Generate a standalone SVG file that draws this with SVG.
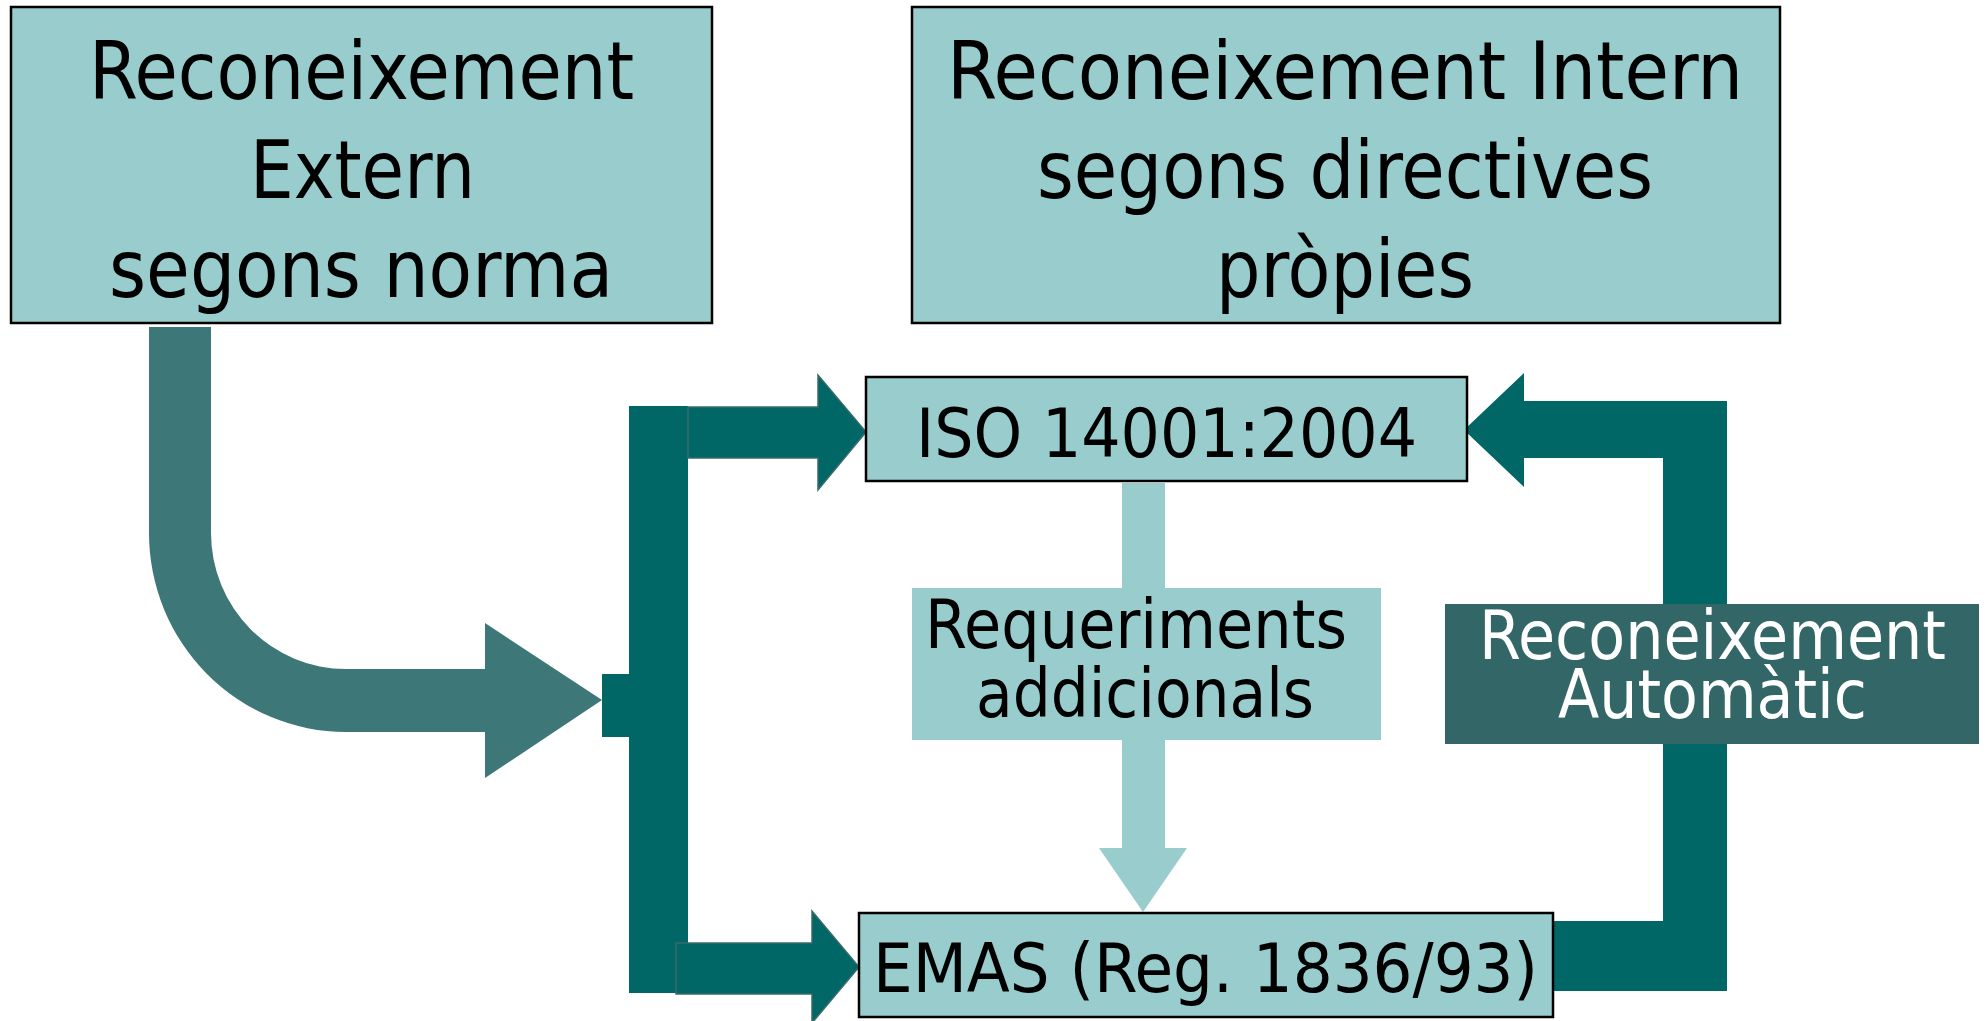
<svg xmlns="http://www.w3.org/2000/svg" width="1987" height="1021" viewBox="0 0 1987 1021">
<style>
.box{fill:#99CCCC;stroke:#000;stroke-width:2.5}
.lbl{fill:#99CCCC}
.dbox{fill:#336666}
.t{font-family:"DejaVu Sans Condensed","DejaVu Sans",sans-serif;font-stretch:condensed;fill:#000}
.big{font-size:80px}
.mid{font-size:68px}
.w{fill:#fff}
.teal{fill:#006666}
.tealo{fill:#006666;stroke:#3A6B6B;stroke-width:1.5}
.curve{fill:#3D7777}
.light{fill:#99CCCC}
</style>
<rect width="1987" height="1021" fill="#fff"/>
<g id="connectors">
  <path class="curve" d="M149,327 L211,327 L211,533 A135,136 0 0 0 346,669 L485,669 L485,623 L602,700 L485,778 L485,732 L346,732 A197,199 0 0 1 149,533 Z"/>
  <rect class="teal" x="602" y="674" width="27" height="63"/>
  <rect class="teal" x="629" y="406" width="59" height="587"/>
  <path class="tealo" d="M688,407 L818,407 L818,375 L866,432 L818,490 L818,458 L688,458 Z"/>
  <path class="tealo" d="M676,943 L812,943 L812,911 L859,967 L812,1023 L812,994 L676,994 Z"/>
  <path class="teal" d="M1464,430 L1524,373 L1524,401 L1727,401 L1727,991 L1553,991 L1553,921 L1663,921 L1663,458 L1524,458 L1524,487 Z"/>
  <path class="light" d="M1122,483 L1165,483 L1165,848 L1187,848 L1143,912 L1099,848 L1122,848 Z"/>
</g>
<g id="node-extern">
  <rect class="box" x="11" y="7" width="701" height="316"/>
  <text class="t big" x="89" y="99" textLength="545" lengthAdjust="spacingAndGlyphs">Reconeixement</text>
  <text class="t big" x="250" y="198" textLength="225" lengthAdjust="spacingAndGlyphs">Extern</text>
  <text class="t big" x="109" y="297" textLength="504" lengthAdjust="spacingAndGlyphs">segons norma</text>
</g>
<g id="node-intern">
  <rect class="box" x="912" y="7" width="868" height="316"/>
  <text class="t big" x="947" y="99" textLength="796" lengthAdjust="spacingAndGlyphs">Reconeixement Intern</text>
  <text class="t big" x="1037" y="198" textLength="616" lengthAdjust="spacingAndGlyphs">segons directives</text>
  <text class="t big" x="1216" y="297" textLength="258" lengthAdjust="spacingAndGlyphs">pròpies</text>
</g>
<g id="node-iso">
  <rect class="box" x="866" y="377" width="601" height="104"/>
  <text class="t mid" x="916" y="457" textLength="501" lengthAdjust="spacingAndGlyphs">ISO 14001:2004</text>
</g>
<g id="node-requeriments">
  <rect class="lbl" x="912" y="588" width="469" height="152"/>
  <text class="t mid" x="925" y="648" textLength="422" lengthAdjust="spacingAndGlyphs">Requeriments</text>
  <text class="t mid" x="976" y="717" textLength="338" lengthAdjust="spacingAndGlyphs">addicionals</text>
</g>
<g id="node-automatic">
  <rect class="dbox" x="1445" y="604" width="534" height="140"/>
  <text class="t mid w" x="1479" y="659" textLength="467" lengthAdjust="spacingAndGlyphs">Reconeixement</text>
  <text class="t mid w" x="1558" y="718" textLength="309" lengthAdjust="spacingAndGlyphs">Automàtic</text>
</g>
<g id="node-emas">
  <rect class="box" x="859" y="913" width="694" height="104"/>
  <text class="t mid" x="873" y="992" textLength="665" lengthAdjust="spacingAndGlyphs">EMAS (Reg. 1836/93)</text>
</g>
</svg>
